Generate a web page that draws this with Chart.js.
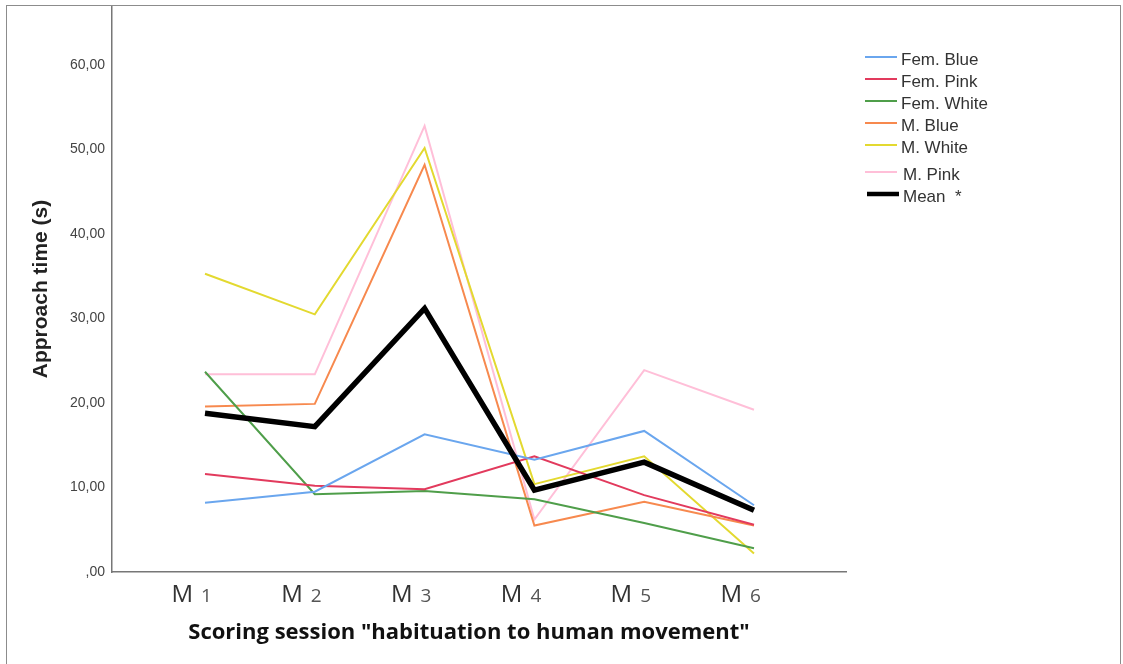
<!DOCTYPE html>
<html>
<head>
<meta charset="utf-8">
<script src="https://cdn.jsdelivr.net/npm/chart.js@4"></script>
<style>
html, body { margin: 0; padding: 0; background: #fff; }
#wrap { position: relative; width: 1123px; height: 664px; overflow: hidden; }
#frame { position: absolute; left: 6px; top: 5px; width: 1115px; height: 700px; border: 1.5px solid #8c8c8c; box-sizing: border-box; pointer-events: none; }
canvas { position: absolute; left: 0; top: 0; }
</style>
</head>
<body>
<div id="wrap">
  <canvas id="chart" width="1123" height="664"></canvas>
  <div id="frame"></div>
</div>
<script>
// sessions M1..M6
const sessions = [1, 2, 3, 4, 5, 6];
const sessionNumbers = ['1', '2', '3', '4', '5', '6'];

const femBlue  = [8.2, 9.5, 16.3, 13.3, 16.7, 7.9];
const femPink  = [11.6, 10.2, 9.8, 13.7, 9.1, 5.6];
const femWhite = [23.7, 9.2, 9.6, 8.6, 5.8, 2.8];
const mBlue    = [19.6, 19.9, 48.2, 5.5, 8.3, 5.5];
const mWhite   = [35.3, 30.5, 50.2, 10.4, 13.7, 2.2];
const mPink    = [23.4, 23.4, 52.8, 6.2, 23.9, 19.2];
const mean     = [18.8, 17.2, 31.2, 9.7, 13.0, 7.3];

const yTicks = [0, 10, 20, 30, 40, 50, 60];
const yTickLabels = [',00', '10,00', '20,00', '30,00', '40,00', '50,00', '60,00'];

const xTitle = 'Scoring session "habituation to human movement"';

function points(values) {
    return values.map((v, i) => ({ x: sessions[i], y: v }));
}

function series(label, values, color, width, order) {
    return {
        label: label,
        data: points(values),
        borderColor: color,
        borderWidth: width,
        pointRadius: 0,
        tension: 0,
        order: order
    };
}

// "M" big, number smaller, like the original axis
const sessionLabels = {
    id: 'sessionLabels',
    afterDraw(chart) {
        const ctx = chart.ctx;
        const x = chart.scales.x;
        ctx.save();
        ctx.textBaseline = 'alphabetic';
        sessions.forEach((s, i) => {
            const px = x.getPixelForValue(s);
            ctx.font = '24px "Open Sans"';
            ctx.fillStyle = '#333';
            ctx.textAlign = 'right';
            ctx.fillText('M', px - 12, 602);
            ctx.font = '19px "Open Sans"';
            ctx.fillStyle = '#555';
            ctx.textAlign = 'left';
            ctx.fillText(sessionNumbers[i], px - 4, 602);
        });
        // axis title sits a bit left of the plot centre in the original
        ctx.font = 'bold 22px "Open Sans"';
        ctx.fillStyle = '#111';
        ctx.textAlign = 'center';
        ctx.textBaseline = 'middle';
        ctx.fillText(xTitle, 469, 633);
        ctx.restore();
    }
};

const sideLegend = {
    id: 'sideLegend',
    afterDraw(chart) {
        const ctx = chart.ctx;
        ctx.save();
        chart.data.datasets.forEach((ds, i) => {
            const y = 57 + i * 22 + (i >= 5 ? 5 : 0);
            const thick = ds.borderWidth > 3;
            ctx.strokeStyle = ds.borderColor;
            ctx.lineWidth = thick ? 4.5 : 2;
            ctx.beginPath();
            ctx.moveTo(thick ? 867 : 865, y);
            ctx.lineTo(thick ? 899 : 897, y);
            ctx.stroke();
            ctx.font = '17px "Liberation Sans"';
            ctx.fillStyle = '#333';
            ctx.textAlign = 'left';
            ctx.textBaseline = 'middle';
            ctx.fillText(ds.label, i >= 5 ? 903 : 901, y + 3);
        });
        ctx.restore();
    }
};

new Chart(document.getElementById('chart'), {
    type: 'line',
    data: {
        datasets: [
            series('Fem. Blue', femBlue, '#6aa6ee', 2, 1),
            series('Fem. Pink', femPink, '#e23a5d', 2, 1),
            series('Fem. White', femWhite, '#4f9e4a', 2, 1),
            series('M. Blue', mBlue, '#f7894e', 2, 1),
            series('M. White', mWhite, '#e3d930', 2, 1),
            series('M. Pink', mPink, '#ffbfd8', 2, 1),
            series('Mean  *', mean, '#000000', 5.5, 0)
        ]
    },
    options: {
        responsive: false,
        animation: false,
        layout: { padding: { top: 6, right: 277, left: 0, bottom: 0 } },
        plugins: {
            legend: { display: false },
            tooltip: { enabled: false }
        },
        scales: {
            x: {
                type: 'linear',
                min: 0.153,
                max: 6.838,
                grid: { display: false, drawTicks: false },
                border: { display: true, color: '#777', width: 1.5 },
                ticks: { display: false },
                title: { display: false },
                afterFit(scale) {
                    scale.height = 92;
                    scale.paddingLeft = 0;
                    scale.paddingRight = 0;
                }
            },
            y: {
                min: 0,
                max: 67,
                grid: { display: false, drawTicks: false },
                border: { display: true, color: '#777', width: 1.5 },
                ticks: {
                    padding: 7,
                    color: '#444',
                    font: { family: '"Liberation Sans"', size: 14 },
                    callback: (v) => yTickLabels[yTicks.indexOf(v)]
                },
                afterBuildTicks(scale) {
                    scale.ticks = yTicks.map(v => ({ value: v }));
                },
                title: {
                    display: true,
                    text: 'Approach time (s)',
                    color: '#222',
                    font: { family: '"Liberation Sans"', size: 21, weight: 'bold' },
                    padding: { top: 29, bottom: 0 }
                },
                afterFit(scale) {
                    scale.width = 112;
                    scale.paddingTop = 0;
                    scale.paddingBottom = 0;
                }
            }
        }
    },
    plugins: [sessionLabels, sideLegend]
});
</script>
</body>
</html>
